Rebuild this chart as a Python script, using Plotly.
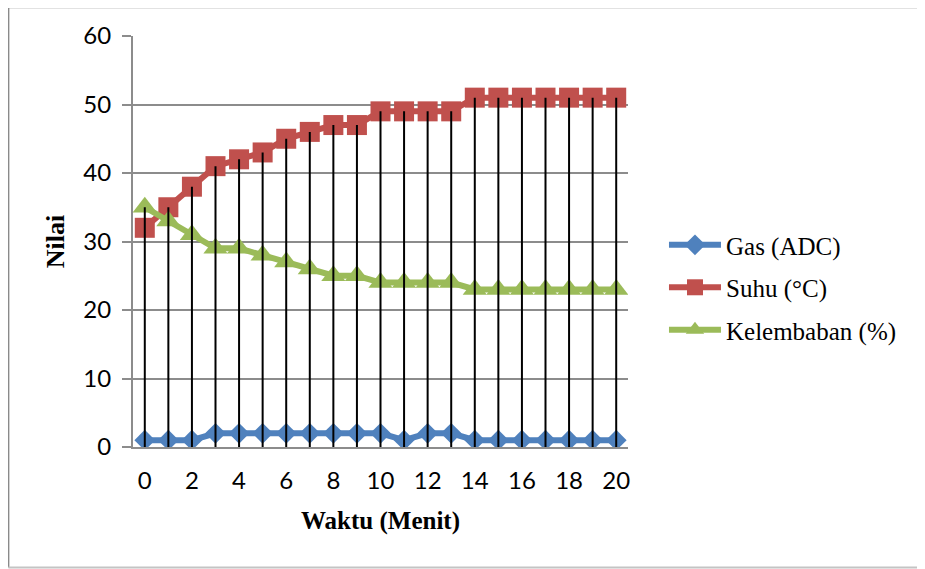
import plotly.graph_objects as go

# ---- data ----
waktu = list(range(0, 21))
gas = [1, 1, 1, 2, 2, 2, 2, 2, 2, 2, 2, 1, 2, 2, 1, 1, 1, 1, 1, 1, 1]
suhu = [32, 35, 38, 41, 42, 43, 45, 46, 47, 47, 49, 49, 49, 49, 51, 51, 51, 51, 51, 51, 51]
kelembaban = [35, 33, 31, 29, 29, 28, 27, 26, 25, 25, 24, 24, 24, 24, 23, 23, 23, 23, 23, 23, 23]
series_names = ["Gas (ADC)", "Suhu (°C)", "Kelembaban (%)"]
x_ticks = list(range(0, 21, 2))
y_ticks = list(range(0, 61, 10))

BLUE = "#4F81BD"
RED = "#C0504D"
GREEN = "#9BBB59"
GRID = "#8C8C8C"

fig = go.Figure()

fig.add_trace(go.Scatter(
    x=waktu, y=gas, name=series_names[0], mode="lines+markers",
    line=dict(color=BLUE, width=6),
    marker=dict(symbol="diamond", size=16, color=BLUE),
    legendgroup="g1"))
fig.add_trace(go.Scatter(
    x=waktu, y=suhu, name=series_names[1], mode="lines+markers",
    line=dict(color=RED, width=6),
    marker=dict(symbol="square", size=20, color=RED),
    legendgroup="g2"))
fig.add_trace(go.Scatter(
    x=waktu, y=kelembaban, name=series_names[2], mode="lines+markers",
    line=dict(color=GREEN, width=6),
    marker=dict(symbol="triangle-up", size=21, color=GREEN),
    legendgroup="g3"))

# drop lines: from the category axis up to the highest point at each category
dx, dy = [], []
for i, xv in enumerate(waktu):
    top = max(gas[i], suhu[i], kelembaban[i])
    dx += [xv, xv, None]
    dy += [0, top, None]
fig.add_trace(go.Scatter(x=dx, y=dy, mode="lines", line=dict(color="black", width=2),
                         showlegend=False, hoverinfo="skip"))

# page has an 8px body margin; work in window coordinates and shift
OFF = 8
W, H = 925 - OFF, 569 - OFF
px_left, px_right, px_top, px_bot = 132.7, 628.0, 35.7, 447.3
L = px_left - OFF
T = px_top - OFF
pw = px_right - px_left
ph = px_bot - px_top
R = W - L - pw
B = H - T - ph

def px_x(p):
    return (p - px_left) / pw

def px_y(p):
    return 1 - (p - px_top) / ph

fig.update_layout(
    width=W, height=H,
    margin=dict(l=L, r=R, t=T, b=B, autoexpand=False),
    paper_bgcolor="white", plot_bgcolor="white",
    showlegend=True,
    legend=dict(
        x=px_x(664), y=px_y(222), xanchor="left", yanchor="top",
        font=dict(family="Liberation Serif", size=25, color="black"),
        traceorder="grouped", tracegroupgap=7, itemwidth=52,
        bgcolor="rgba(0,0,0,0)",
    ),
    xaxis=dict(
        range=[-0.5, 20.5], tickvals=x_ticks, ticktext=[str(v) for v in x_ticks],
        showgrid=False, zeroline=False, showline=True, linecolor=GRID, linewidth=2,
        ticks="", ticklabelstandoff=11,
        tickfont=dict(family="Lato", size=24, color="black"),
        title=dict(text="<b>Waktu (Menit)</b>", standoff=19,
                   font=dict(family="Liberation Serif", size=25, color="black")),
    ),
    yaxis=dict(
        range=[0, 60], tickvals=y_ticks, ticktext=[str(v) for v in y_ticks],
        showgrid=True, gridcolor=GRID, gridwidth=2, zeroline=False,
        showline=True, linecolor=GRID, linewidth=2,
        ticks="outside", ticklen=9, tickcolor=GRID, tickwidth=2, ticklabelstandoff=6,
        tickfont=dict(family="Lato", size=24, color="black"),
        title=dict(text="<b>Nilai</b>", standoff=11,
                   font=dict(family="Liberation Serif", size=26, color="black")),
    ),
)

# outer chart-area border (left, top, bottom edges; right edge is off-image)
border = dict(color="#8A8A8A", width=2)
fig.add_shape(type="line", xref="paper", yref="paper",
              x0=px_x(8), x1=px_x(8), y0=px_y(568), y1=px_y(7), line=border, layer="below")
fig.add_shape(type="line", xref="paper", yref="paper",
              x0=px_x(8), x1=px_x(960), y0=px_y(7), y1=px_y(7), line=border, layer="below")
fig.add_shape(type="line", xref="paper", yref="paper",
              x0=px_x(8), x1=px_x(960), y0=px_y(568), y1=px_y(568),
              line=dict(color="#C4C4C4", width=2), layer="below")

fig.write_html("out.html")
